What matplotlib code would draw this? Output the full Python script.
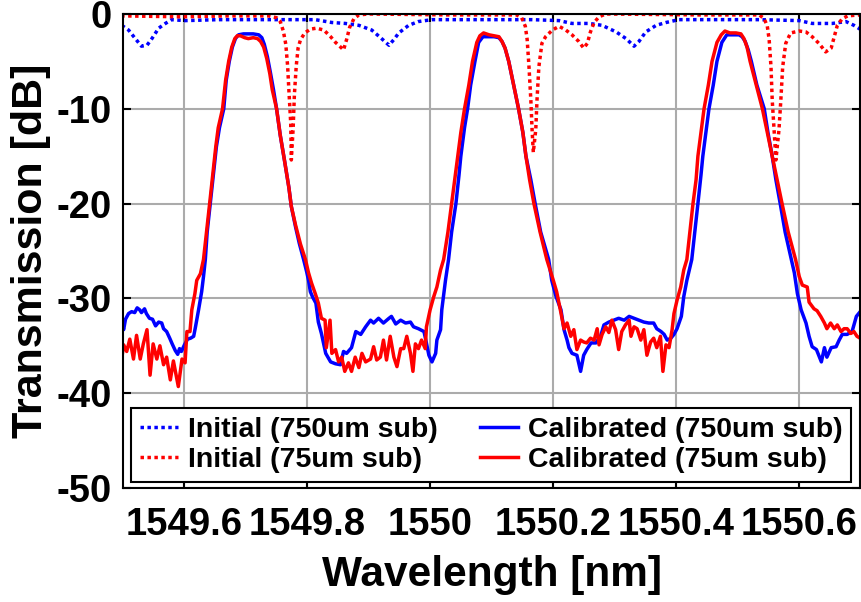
import matplotlib
matplotlib.use("Agg")
import matplotlib.pyplot as plt

# Font giống MATLAB (Arial đậm)
plt.rcParams['font.family'] = ['Liberation Sans', 'DejaVu Sans']
plt.rcParams['font.weight'] = 'bold'

# Trục
xticks = [1549.6, 1549.8, 1550.0, 1550.2, 1550.4, 1550.6]
xtick_labels = ["1549.6", "1549.8", "1550", "1550.2", "1550.4", "1550.6"]
yticks = [0, -10, -20, -30, -40, -50]
ytick_labels = ["0", "-10", "-20", "-30", "-40", "-50"]

labels = ["Initial (750um sub)", "Initial (75um sub)",
          "Calibrated (750um sub)", "Calibrated (75um sub)"]

# Initial, 750um substrate (blue dotted)
init750_wl = [1549.498, 1549.509, 1549.520, 1549.530, 1549.539, 1549.547, 1549.558,
              1549.569, 1549.579, 1549.601, 1549.655, 1549.721, 1549.786, 1549.813,
              1549.840, 1549.862, 1549.884, 1549.905, 1549.921, 1549.933, 1549.941,
              1549.949, 1549.965, 1549.981, 1550.003, 1550.079, 1550.166, 1550.210,
              1550.231, 1550.259, 1550.280, 1550.303, 1550.319, 1550.332, 1550.340,
              1550.351, 1550.368, 1550.384, 1550.405, 1550.470, 1550.536, 1550.601,
              1550.622, 1550.655, 1550.677, 1550.690, 1550.700]
init750_db = [-1.2, -1.7, -2.6, -3.4, -3.3, -2.6, -1.5,
              -1.0, -0.6, -0.7, -0.6, -0.6, -0.6, -0.6,
              -0.9, -1.0, -1.2, -1.7, -2.6, -3.3, -2.7,
              -2.0, -1.2, -0.8, -0.6, -0.6, -0.6, -0.7,
              -1.0, -1.0, -1.2, -1.9, -2.6, -3.4, -2.9,
              -1.9, -1.2, -0.9, -0.6, -0.6, -0.6, -0.7,
              -1.0, -1.0, -0.8, -1.2, -1.6]

# Initial, 75um substrate (red dotted)
init75_wl = [1549.497, 1549.595, 1549.672, 1549.737, 1549.750, 1549.756, 1549.761,
             1549.765, 1549.768, 1549.770, 1549.773, 1549.774, 1549.777, 1549.779,
             1549.782, 1549.785, 1549.789, 1549.796, 1549.805, 1549.815, 1549.827,
             1549.838, 1549.846, 1549.856, 1549.859, 1549.864, 1549.869, 1549.876,
             1549.884, 1549.900, 1550.030, 1550.141, 1550.149, 1550.155, 1550.158,
             1550.161, 1550.164, 1550.166, 1550.168, 1550.172, 1550.174, 1550.177,
             1550.182, 1550.188, 1550.199, 1550.210, 1550.221, 1550.231, 1550.242,
             1550.250, 1550.256, 1550.261, 1550.267, 1550.275, 1550.286, 1550.438,
             1550.536, 1550.544, 1550.549, 1550.552, 1550.555, 1550.557, 1550.560,
             1550.563, 1550.568, 1550.571, 1550.574, 1550.579, 1550.587, 1550.601,
             1550.612, 1550.622, 1550.633, 1550.644, 1550.653, 1550.658, 1550.663,
             1550.671, 1550.680, 1550.699]
init75_db = [-0.2, -0.3, -0.2, -0.2, -0.4, -0.8, -1.8,
             -3.2, -5.5, -8.0, -11.5, -15.4, -12.0, -8.5,
             -5.5, -3.6, -2.7, -2.0, -1.6, -1.5, -1.7,
             -2.4, -3.0, -3.6, -3.8, -2.7, -1.4, -0.5,
             -0.1, 0.0, -0.1, -0.1, -0.4, -1.3, -2.7,
             -5.6, -9.1, -12.2, -14.6, -12.2, -9.1, -5.6,
             -3.1, -2.4, -1.7, -1.3, -1.7, -2.2, -2.9,
             -3.6, -3.1, -1.9, -0.9, -0.3, 0.0, -0.1,
             -0.1, -0.5, -1.3, -2.7, -5.6, -9.1, -12.2,
             -15.4, -12.2, -9.1, -5.6, -3.1, -2.0, -1.8,
             -1.9, -2.4, -3.1, -4.0, -3.6, -2.4, -1.2,
             -0.5, -0.2, -0.1]

# Calibrated, 750um substrate (blue solid)
cal750_wl = [1549.498, 1549.501, 1549.504, 1549.509, 1549.514, 1549.519, 1549.523,
             1549.527, 1549.530, 1549.535, 1549.538, 1549.543, 1549.548, 1549.553,
             1549.558, 1549.563, 1549.566, 1549.571, 1549.576, 1549.580, 1549.585,
             1549.589, 1549.592, 1549.595, 1549.600, 1549.605, 1549.610, 1549.615,
             1549.618, 1549.623, 1549.628, 1549.631, 1549.634, 1549.637, 1549.642,
             1549.647, 1549.652, 1549.657, 1549.664, 1549.668, 1549.673, 1549.678,
             1549.683, 1549.688, 1549.696, 1549.704, 1549.712, 1549.721, 1549.726,
             1549.730, 1549.735, 1549.740, 1549.745, 1549.750, 1549.756, 1549.763,
             1549.770, 1549.774, 1549.781, 1549.787, 1549.794, 1549.799, 1549.802,
             1549.805, 1549.809, 1549.814, 1549.818, 1549.823, 1549.830, 1549.838,
             1549.846, 1549.854, 1549.859, 1549.864, 1549.872, 1549.879, 1549.887,
             1549.895, 1549.903, 1549.908, 1549.916, 1549.924, 1549.933, 1549.937,
             1549.944, 1549.952, 1549.960, 1549.968, 1549.973, 1549.981, 1549.990,
             1549.993, 1549.998, 1550.003, 1550.009, 1550.011, 1550.017, 1550.019,
             1550.025, 1550.030, 1550.035, 1550.042, 1550.047, 1550.050, 1550.056,
             1550.061, 1550.066, 1550.073, 1550.079, 1550.086, 1550.096, 1550.104,
             1550.112, 1550.117, 1550.122, 1550.128, 1550.136, 1550.144, 1550.151,
             1550.156, 1550.164, 1550.171, 1550.180, 1550.193, 1550.198, 1550.205,
             1550.213, 1550.218, 1550.223, 1550.226, 1550.231, 1550.239, 1550.245,
             1550.250, 1550.255, 1550.262, 1550.270, 1550.278, 1550.283, 1550.291,
             1550.299, 1550.307, 1550.316, 1550.324, 1550.332, 1550.340, 1550.348,
             1550.356, 1550.364, 1550.369, 1550.376, 1550.381, 1550.386, 1550.392,
             1550.397, 1550.402, 1550.409, 1550.413, 1550.418, 1550.426, 1550.431,
             1550.436, 1550.441, 1550.444, 1550.449, 1550.454, 1550.461, 1550.467,
             1550.475, 1550.483, 1550.495, 1550.503, 1550.508, 1550.513, 1550.518,
             1550.523, 1550.532, 1550.544, 1550.550, 1550.557, 1550.563, 1550.570,
             1550.578, 1550.588, 1550.593, 1550.598, 1550.604, 1550.612, 1550.617,
             1550.622, 1550.629, 1550.637, 1550.642, 1550.646, 1550.653, 1550.661,
             1550.666, 1550.671, 1550.679, 1550.687, 1550.694, 1550.699]
cal750_db = [-32.7, -33.3, -32.2, -31.6, -31.4, -31.5, -31.0,
             -31.2, -31.5, -31.1, -31.6, -32.1, -32.2, -32.9,
             -32.5, -32.6, -33.2, -33.5, -34.2, -34.8, -35.5,
             -35.9, -35.3, -35.6, -34.9, -34.3, -34.2, -34.0,
             -33.0, -31.2, -29.3, -27.7, -25.9, -23.0, -20.0,
             -17.0, -14.0, -12.0, -10.0, -7.0, -5.0, -3.5,
             -2.6, -2.2, -2.1, -2.1, -2.1, -2.2, -2.5,
             -3.2, -4.5, -6.2, -8.0, -10.0, -12.8, -15.5,
             -18.3, -20.3, -22.5, -24.2, -25.9, -27.2, -28.1,
             -29.3, -29.9, -30.5, -32.5, -33.7, -35.8, -36.7,
             -36.9, -37.0, -35.6, -35.8, -35.2, -33.5, -33.8,
             -33.0, -32.3, -32.6, -32.1, -32.6, -32.1, -31.9,
             -32.7, -32.3, -32.6, -32.5, -33.0, -33.2, -33.5,
             -34.4, -36.0, -36.7, -35.8, -34.4, -33.3, -31.2,
             -28.1, -25.9, -23.0, -20.0, -17.0, -15.0, -12.0,
             -10.0, -7.5, -5.0, -3.0, -2.4, -2.4, -2.4,
             -2.5, -2.9, -3.6, -5.0, -7.5, -10.0, -12.5,
             -15.0, -17.5, -20.0, -23.0, -25.9, -28.1, -29.8,
             -31.2, -33.3, -34.4, -35.2, -35.8, -36.0, -37.7,
             -36.0, -35.4, -34.7, -34.7, -33.9, -32.8, -32.5,
             -32.3, -32.1, -32.3, -31.9, -32.1, -32.3, -32.5,
             -32.6, -32.6, -33.2, -33.5, -33.8, -34.4, -34.2,
             -33.8, -33.2, -31.9, -29.8, -28.1, -25.9, -23.0,
             -20.0, -17.0, -15.0, -12.5, -10.0, -7.5, -5.0,
             -3.0, -2.2, -2.2, -2.2, -2.4, -2.9, -3.8,
             -5.0, -7.5, -10.0, -12.5, -15.0, -17.5, -20.0,
             -23.0, -25.9, -27.3, -29.5, -31.2, -32.6, -34.0,
             -35.1, -35.4, -36.7, -35.2, -36.2, -35.2, -35.1,
             -34.4, -33.8, -33.8, -33.5, -31.9, -31.5]

# Calibrated, 75um substrate (red solid)
cal75_wl = [1549.498, 1549.501, 1549.506, 1549.511, 1549.517, 1549.522, 1549.528,
            1549.533, 1549.539, 1549.544, 1549.549, 1549.555, 1549.560, 1549.566,
            1549.571, 1549.577, 1549.582, 1549.590, 1549.596, 1549.601, 1549.604,
            1549.609, 1549.612, 1549.617, 1549.620, 1549.626, 1549.631, 1549.636,
            1549.641, 1549.646, 1549.651, 1549.655, 1549.662, 1549.667, 1549.672,
            1549.677, 1549.682, 1549.686, 1549.691, 1549.698, 1549.704, 1549.712,
            1549.719, 1549.724, 1549.729, 1549.734, 1549.739, 1549.743, 1549.750,
            1549.756, 1549.763, 1549.770, 1549.774, 1549.781, 1549.789, 1549.797,
            1549.802, 1549.807, 1549.813, 1549.818, 1549.823, 1549.829, 1549.831,
            1549.837, 1549.840, 1549.846, 1549.851, 1549.856, 1549.861, 1549.867,
            1549.872, 1549.878, 1549.884, 1549.889, 1549.895, 1549.903, 1549.908,
            1549.913, 1549.919, 1549.924, 1549.929, 1549.935, 1549.941, 1549.946,
            1549.952, 1549.957, 1549.962, 1549.968, 1549.972, 1549.976, 1549.981,
            1549.986, 1549.992, 1549.994, 1550.000, 1550.006, 1550.011, 1550.017,
            1550.022, 1550.029, 1550.035, 1550.040, 1550.045, 1550.050, 1550.056,
            1550.063, 1550.069, 1550.076, 1550.081, 1550.087, 1550.096, 1550.104,
            1550.112, 1550.117, 1550.122, 1550.128, 1550.136, 1550.144, 1550.151,
            1550.156, 1550.162, 1550.169, 1550.179, 1550.190, 1550.201, 1550.206,
            1550.212, 1550.218, 1550.223, 1550.229, 1550.234, 1550.239, 1550.245,
            1550.250, 1550.255, 1550.261, 1550.267, 1550.272, 1550.275, 1550.280,
            1550.286, 1550.291, 1550.296, 1550.302, 1550.307, 1550.312, 1550.318,
            1550.324, 1550.327, 1550.332, 1550.337, 1550.343, 1550.348, 1550.353,
            1550.359, 1550.364, 1550.369, 1550.375, 1550.379, 1550.384, 1550.389,
            1550.394, 1550.397, 1550.402, 1550.408, 1550.413, 1550.418, 1550.423,
            1550.428, 1550.433, 1550.436, 1550.441, 1550.446, 1550.453, 1550.459,
            1550.467, 1550.474, 1550.480, 1550.488, 1550.498, 1550.506, 1550.511,
            1550.516, 1550.521, 1550.531, 1550.541, 1550.549, 1550.557, 1550.565,
            1550.573, 1550.583, 1550.595, 1550.601, 1550.606, 1550.614, 1550.617,
            1550.625, 1550.630, 1550.636, 1550.642, 1550.646, 1550.652, 1550.658,
            1550.663, 1550.669, 1550.674, 1550.679, 1550.685, 1550.690, 1550.695,
            1550.700]
cal75_db = [-36.3, -34.9, -35.6, -34.3, -36.4, -33.9, -36.4,
            -34.8, -33.3, -38.1, -34.8, -36.4, -35.0, -37.0,
            -36.2, -38.6, -36.6, -39.3, -36.4, -36.8, -33.5,
            -33.5, -31.2, -29.5, -28.1, -27.4, -25.9, -23.0,
            -20.0, -17.0, -14.0, -12.0, -10.0, -7.0, -5.0,
            -3.5, -2.6, -2.3, -2.3, -2.5, -2.6, -2.5,
            -2.6, -2.9, -3.5, -4.7, -6.3, -8.0, -10.0,
            -12.8, -15.5, -18.3, -20.3, -22.3, -24.3, -25.9,
            -27.3, -28.4, -29.5, -30.5, -32.1, -32.3, -35.2,
            -32.3, -35.8, -35.4, -36.7, -36.2, -37.7, -36.8,
            -37.7, -36.2, -37.3, -35.8, -36.7, -36.4, -35.1,
            -36.5, -36.2, -34.4, -36.5, -34.0, -36.2, -37.2,
            -35.3, -35.3, -34.0, -35.8, -37.7, -34.8, -35.3,
            -34.4, -35.3, -33.0, -31.2, -29.8, -28.8, -27.0,
            -25.9, -23.0, -20.0, -17.5, -15.0, -12.5, -10.0,
            -7.5, -5.0, -3.0, -2.3, -2.0, -2.2, -2.3,
            -2.4, -2.9, -3.6, -5.0, -7.5, -10.0, -12.5,
            -15.0, -17.5, -20.0, -23.0, -25.9, -28.2, -29.3,
            -31.2, -33.2, -32.6, -34.0, -33.3, -35.4, -34.4,
            -34.6, -34.7, -34.2, -34.4, -33.2, -34.9, -33.8,
            -33.0, -33.6, -32.3, -33.3, -35.4, -33.5, -32.8,
            -32.3, -34.0, -33.0, -33.2, -34.4, -33.3, -36.0,
            -34.6, -34.2, -35.2, -34.0, -37.7, -34.9, -35.2,
            -33.3, -31.6, -30.2, -28.8, -27.0, -25.9, -23.0,
            -20.0, -17.5, -15.0, -12.5, -10.0, -7.5, -5.0,
            -3.0, -2.2, -1.8, -2.0, -2.0, -2.1, -2.6,
            -3.5, -5.0, -7.5, -10.0, -12.5, -15.0, -17.5,
            -20.0, -23.0, -25.9, -27.7, -28.6, -28.8, -30.4,
            -31.1, -31.3, -31.9, -32.6, -33.2, -32.6, -33.2,
            -32.8, -33.5, -33.2, -33.2, -33.7, -33.5, -34.0,
            -34.2]

fig = plt.figure(figsize=(8.61, 6.02), dpi=100)
ax = fig.add_axes([0.1429, 0.1894, 0.856, 0.7874])

dot = (0, (1, 1))
ax.plot(init750_wl, init750_db, color="#0000ff", lw=2.5, ls=dot, label=labels[0])
ax.plot(init75_wl, init75_db, color="#ff0000", lw=2.5, ls=dot, label=labels[1])
ax.plot(cal750_wl, cal750_db, color="#0000ff", lw=2.5, label=labels[2])
ax.plot(cal75_wl, cal75_db, color="#ff0000", lw=2.5, label=labels[3])

ax.set_xlim(1549.5, 1550.7)
ax.set_ylim(-50, 0)
ax.set_xticks(xticks)
ax.set_xticklabels(xtick_labels)
ax.set_yticks(yticks)
ax.set_yticklabels(ytick_labels)

ax.grid(True, color="#ababab", lw=1.5)
ax.set_axisbelow(True)
ax.tick_params(direction="in", length=6, width=1.5, top=True, right=True,
               labelsize=27.5)
ax.tick_params(axis="x", pad=14)
ax.tick_params(axis="y", pad=8)
for s in ax.spines.values():
    s.set_linewidth(1.5)

ax.set_xlabel("Wavelength [nm]", fontsize=30.5, fontweight="bold", labelpad=8)
ax.set_ylabel("Transmission [dB]", fontsize=31, fontweight="bold", labelpad=4)

leg = ax.legend(ncol=2, loc="lower left", bbox_to_anchor=(0.011, 0.013, 0.977, 0.16),
                mode="expand", fontsize=20.5, handlelength=1.35, handletextpad=0.35,
                labelspacing=0.15, borderpad=0.3, borderaxespad=0, fancybox=False,
                edgecolor="black", framealpha=1)
leg.get_frame().set_linewidth(1.5)

fig.savefig("out.png", dpi=100)
